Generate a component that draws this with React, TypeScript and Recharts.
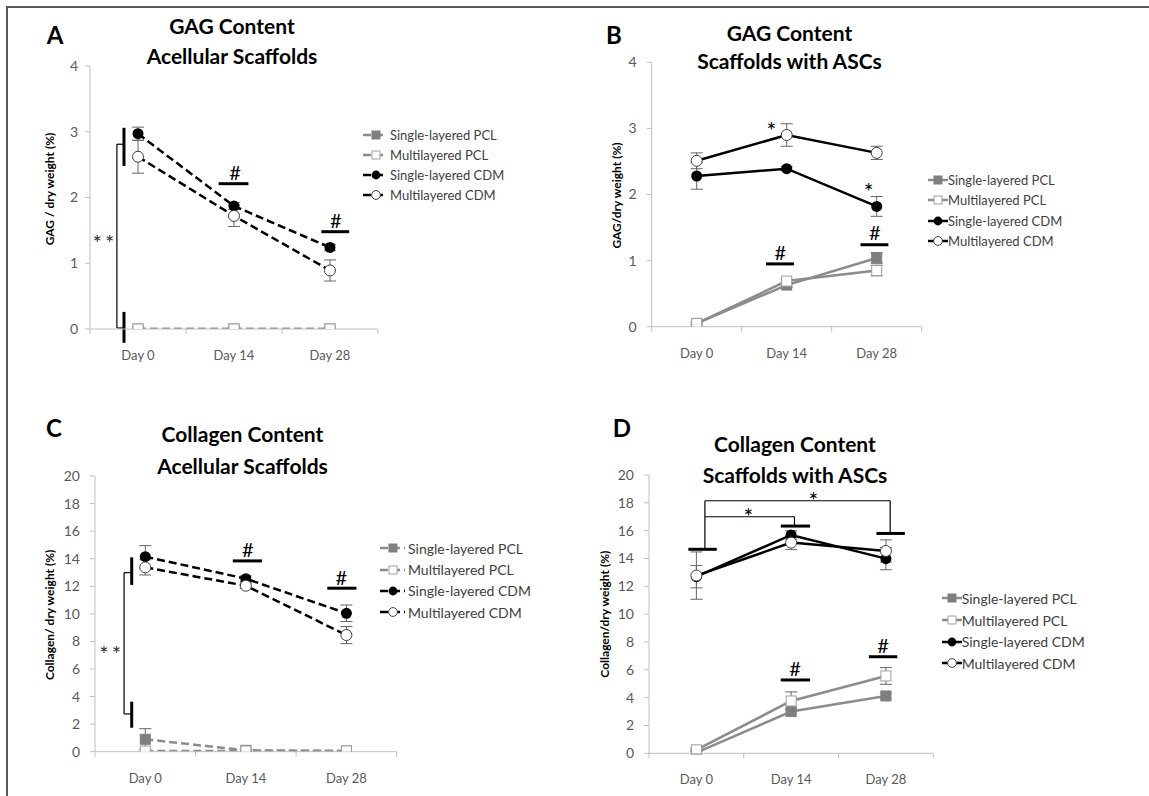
import React from 'react';
import { LineChart, Line, XAxis, YAxis, ErrorBar, ReferenceLine, ReferenceDot, Legend } from 'recharts';

const days = ['Day 0', 'Day 14', 'Day 28'];
const seriesNames = ['Single-layered PCL', 'Multilayered PCL', 'Single-layered CDM', 'Multilayered CDM'];
const KEYS = ['singlePcl', 'multiPcl', 'singleCdm', 'multiCdm'];

// A - GAG content, acellular scaffolds
const gagAcellSinglePcl = [0, 0, 0];
const gagAcellMultiPcl = [0, 0, 0];
const gagAcellSingleCdm = [2.97, 1.87, 1.24];
const gagAcellMultiCdm = [2.62, 1.72, 0.89];
const gagAcellSinglePclErr = [0, 0, 0];
const gagAcellMultiPclErr = [0, 0, 0];
const gagAcellSingleCdmErr = [0.1, 0.05, 0.05];
const gagAcellMultiCdmErr = [0.25, 0.16, 0.16];

// B - GAG content, scaffolds with ASCs
const gagAscSinglePcl = [0.05, 0.63, 1.04];
const gagAscMultiPcl = [0.05, 0.69, 0.85];
const gagAscSingleCdm = [2.28, 2.39, 1.82];
const gagAscMultiCdm = [2.51, 2.9, 2.63];
const gagAscSinglePclErr = [0.02, 0.03, 0.08];
const gagAscMultiPclErr = [0.02, 0.03, 0.08];
const gagAscSingleCdmErr = [0.2, 0.03, 0.15];
const gagAscMultiCdmErr = [0.12, 0.17, 0.1];

// C - collagen content, acellular scaffolds
const colAcellSinglePcl = [0.9, 0.1, 0.05];
const colAcellMultiPcl = [0.05, 0.05, 0.05];
const colAcellSingleCdm = [14.15, 12.55, 10.04];
const colAcellMultiCdm = [13.37, 12.04, 8.46];
const colAcellSinglePclErr = [0.77, 0.05, 0];
const colAcellMultiPclErr = [0, 0, 0];
const colAcellSingleCdmErr = [0.8, 0.2, 0.6];
const colAcellMultiCdmErr = [0.55, 0.2, 0.62];

// D - collagen content, scaffolds with ASCs
const colAscSinglePcl = [0.05, 3.0, 4.12];
const colAscMultiPcl = [0.25, 3.76, 5.56];
const colAscSingleCdm = [12.69, 15.69, 13.99];
const colAscMultiCdm = [12.77, 15.14, 14.54];
const colAscSinglePclErr = [0.1, 0.2, 0.2];
const colAscMultiPclErr = [0.1, 0.65, 0.6];
const colAscSingleCdmErr = [0.8, 0.3, 0.8];
const colAscMultiCdmErr = [1.7, 0.5, 0.8];

// significance marks, in data units: [x1, y1, x2, y2, thick?]
const marksA = [
  [0.354, 3.06, 0.354, 2.48, 1], [0.354, 0.26, 0.354, -0.21, 1],
  [0.28, 2.81, 0.28, 0.015, 0], [0.28, 2.81, 0.354, 2.81, 0], [0.28, 0.015, 0.354, 0.015, 0],
  [1.34, 2.21, 1.65, 2.21, 1], [2.41, 1.48, 2.7, 1.48, 1],
];
const notesA: [string, number, number][] = [['#', 1.51, 2.39], ['#', 2.56, 1.66], ['**', 0.156, 1.43]];

const marksB = [[1.27, 0.95, 1.58, 0.95, 1], [2.32, 1.24, 2.63, 1.24, 1]];
const notesB: [string, number, number][] = [['*', 1.33, 3.08], ['*', 2.41, 2.17], ['#', 1.43, 1.13], ['#', 2.48, 1.43]];

const marksC = [
  [0.365, 14.1, 0.365, 12.1, 1], [0.365, 3.63, 0.365, 1.74, 1],
  [0.289, 12.99, 0.289, 2.74, 0], [0.289, 12.99, 0.365, 12.99, 0], [0.289, 2.74, 0.365, 2.74, 0],
  [1.37, 13.84, 1.66, 13.84, 1], [2.31, 11.86, 2.6, 11.86, 1],
];
const notesC: [string, number, number][] = [['#', 1.52, 14.69], ['#', 2.45, 12.7], ['**', 0.166, 7.62]];

const marksD = [
  [0.415, 14.66, 0.715, 14.66, 1], [1.39, 16.33, 1.7, 16.33, 1], [2.4, 15.8, 2.7, 15.8, 1],
  [1.39, 5.27, 1.7, 5.27, 1], [2.32, 6.94, 2.62, 6.94, 1],
  [0.59, 14.66, 0.59, 18.15, 0], [0.59, 17.0, 1.535, 17.0, 0], [1.535, 17.0, 1.535, 16.33, 0],
  [0.59, 18.15, 2.545, 18.15, 0], [2.545, 18.15, 2.545, 15.8, 0],
];
const notesD: [string, number, number][] = [['*', 1.05, 17.6], ['*', 1.735, 18.72], ['#', 1.54, 6.1], ['#', 2.47, 7.78]];

const STYLE: Record<string, { stroke: string; marker: string }> = {
  singlePcl: { stroke: '#8c8c8c', marker: 'sq' },
  multiPcl: { stroke: '#8c8c8c', marker: 'osq' },
  singleCdm: { stroke: '#000', marker: 'dot' },
  multiCdm: { stroke: '#000', marker: 'odot' },
};

function buildRows(vals: number[][], errs: number[][]) {
  return days.map((d, i) => {
    const row: any = { x: i + 0.5, day: d };
    KEYS.forEach((k, s) => {
      row[k] = vals[s][i];
      row[k + 'Err'] = errs[s][i];
    });
    return row;
  });
}

function Marker({ kind, cx, cy, s = 1 }: { kind: string; cx: number; cy: number; s?: number }) {
  const h = 5 * s;
  const r = 5.5 * s;
  if (kind === 'sq') return <rect x={cx - h} y={cy - h} width={2 * h} height={2 * h} fill="#7f7f7f" stroke="#7f7f7f" />;
  if (kind === 'osq') return <rect x={cx - h} y={cy - h} width={2 * h} height={2 * h} fill="#fff" stroke="#a0a0a0" />;
  if (kind === 'dot') return <circle cx={cx} cy={cy} r={r} fill="#000" />;
  return <circle cx={cx} cy={cy} r={r} fill="#fff" stroke="#404040" strokeWidth={1} />;
}

const XTick = (p: any) => {
  const v = p.payload.value;
  if (Number.isInteger(v)) return <line x1={p.x} x2={p.x} y1={p.y} y2={p.y + 5} stroke="#bfbfbf" />;
  return (
    <text x={p.x} y={p.y + 26} textAnchor="middle" dominantBaseline="central" fill="#595959" fontSize={13}>
      {days[Math.floor(v)]}
    </text>
  );
};

const noteShape = (txt: string) => (p: any) => {
  const star = txt.includes('*');
  return (
    <text
      x={p.cx}
      y={p.cy}
      dy={star ? '0.32em' : 0}
      textAnchor="middle"
      dominantBaseline="central"
      fontSize={txt === '#' ? 20 : txt === '**' ? 22 : 23}
      fill={txt === '**' ? '#333' : '#000'}
      letterSpacing={txt === '**' ? 3 : 0}
    >
      {txt}
    </text>
  );
};

interface Panel {
  left: number; top: number; width: number; height: number;
  plot: [number, number, number, number];
  yMax: number; yTicks: number[];
  yLabel: string; yLabelOffset: number; yLabelDy: number; tickMargin: number; tickFont: number;
  dashed: boolean;
  rows: any[]; marks: number[][]; notes: [string, number, number][];
  legend: { left: number; top: number; rowH: number; fontSize: number; iconW: number };
  letter: string; letterPos: [number, number];
  title: [string, string]; titlePos: [number, number, number]; titleSize: number;
}

const panels: Panel[] = [
  {
    left: 0, top: 0, width: 575, height: 400, plot: [90, 378, 66, 329],
    yMax: 4, yTicks: [0, 1, 2, 3, 4], yLabel: 'GAG / dry weight (%)', yLabelOffset: 20, yLabelDy: -8.5,
    tickMargin: 7, tickFont: 14, dashed: true,
    rows: buildRows(
      [gagAcellSinglePcl, gagAcellMultiPcl, gagAcellSingleCdm, gagAcellMultiCdm],
      [gagAcellSinglePclErr, gagAcellMultiPclErr, gagAcellSingleCdmErr, gagAcellMultiCdmErr]),
    marks: marksA, notes: notesA,
    legend: { left: 363, top: 125, rowH: 20, fontSize: 13, iconW: 27 },
    letter: 'A', letterPos: [55, 35],
    title: ['GAG Content', 'Acellular Scaffolds'], titlePos: [232, 25, 55], titleSize: 21,
  },
  {
    left: 575, top: 0, width: 574, height: 400, plot: [76.7, 346.7, 62.3, 326.7],
    yMax: 4, yTicks: [0, 1, 2, 3, 4], yLabel: 'GAG/dry weight (%)', yLabelOffset: 25, yLabelDy: 1,
    tickMargin: 10, tickFont: 14, dashed: false,
    rows: buildRows(
      [gagAscSinglePcl, gagAscMultiPcl, gagAscSingleCdm, gagAscMultiCdm],
      [gagAscSinglePclErr, gagAscMultiPclErr, gagAscSingleCdmErr, gagAscMultiCdmErr]),
    marks: marksB, notes: notesB,
    legend: { left: 353, top: 170, rowH: 20.3, fontSize: 13, iconW: 20 },
    letter: 'B', letterPos: [39, 35],
    title: ['GAG Content', 'Scaffolds with ASCs'], titlePos: [214.5, 31.7, 60], titleSize: 21,
  },
  {
    left: 0, top: 400, width: 575, height: 396, plot: [95, 396.7, 76, 351.7],
    yMax: 20, yTicks: [0, 2, 4, 6, 8, 10, 12, 14, 16, 18, 20], yLabel: 'Collagen/ dry weight (%)', yLabelOffset: 15, yLabelDy: 1,
    tickMargin: 10, tickFont: 14, dashed: true,
    rows: buildRows(
      [colAcellSinglePcl, colAcellMultiPcl, colAcellSingleCdm, colAcellMultiCdm],
      [colAcellSinglePclErr, colAcellMultiPclErr, colAcellSingleCdmErr, colAcellMultiCdmErr]),
    marks: marksC, notes: notesC,
    legend: { left: 380, top: 137.7, rowH: 21.3, fontSize: 14, iconW: 28 },
    letter: 'C', letterPos: [54, 28],
    title: ['Collagen Content', 'Acellular Scaffolds'], titlePos: [242.5, 33.3, 65], titleSize: 21,
  },
  {
    left: 575, top: 400, width: 574, height: 396, plot: [74, 358.3, 75, 353.3],
    yMax: 20, yTicks: [0, 2, 4, 6, 8, 10, 12, 14, 16, 18, 20], yLabel: 'Collagen/dry weight (%)', yLabelOffset: 16, yLabelDy: 0,
    tickMargin: 10, tickFont: 14, dashed: false,
    rows: buildRows(
      [colAscSinglePcl, colAscMultiPcl, colAscSingleCdm, colAscMultiCdm],
      [colAscSinglePclErr, colAscMultiPclErr, colAscSingleCdmErr, colAscMultiCdmErr]),
    marks: marksD, notes: notesD,
    legend: { left: 366.7, top: 187.5, rowH: 21.7, fontSize: 14, iconW: 20 },
    letter: 'D', letterPos: [47, 28],
    title: ['Collagen Content', 'Scaffolds with ASCs'], titlePos: [220, 43.3, 74], titleSize: 21,
  },
];

const renderLegend = (cfg: Panel) => (props: any) => {
  const lg = cfg.legend;
  const mx = cfg.dashed ? 13 : 10;
  const items = [...(props.payload || [])].sort((a: any, b: any) => KEYS.indexOf(a.dataKey) - KEYS.indexOf(b.dataKey));
  return (
    <div style={{ fontSize: lg.fontSize, color: '#404040' }}>
      {items.map((item: any) => {
        const st = STYLE[item.dataKey];
        return (
          <div key={item.dataKey} style={{ display: 'flex', alignItems: 'center', height: lg.rowH, whiteSpace: 'nowrap' }}>
            <svg width={lg.iconW} height={14} style={{ flex: 'none' }}>
              <line x1={0} x2={lg.iconW - (cfg.dashed ? 3 : 0)} y1={7} y2={7} stroke={st.stroke} strokeWidth={2.5}
                strokeDasharray={cfg.dashed ? '8 4' : undefined} />
              <Marker kind={st.marker} cx={mx} cy={7} s={0.8} />
            </svg>
            <span>{item.value}</span>
          </div>
        );
      })}
    </div>
  );
};

function PanelChart({ cfg }: { cfg: Panel }) {
  const [x0, x1, y0, y1] = cfg.plot;
  const yW = 60;
  const xH = 30;
  const margin = { left: x0 - yW, right: cfg.width - x1, top: y0, bottom: cfg.height - y1 - xH };
  return (
    <div style={{ position: 'absolute', left: cfg.left, top: cfg.top, width: cfg.width, height: cfg.height }}>
      <LineChart width={cfg.width} height={cfg.height} data={cfg.rows} margin={margin}>
        <XAxis
          type="number" dataKey="x" domain={[0, 3]} ticks={[0, 0.5, 1, 1.5, 2, 2.5, 3]} interval={0}
          allowDataOverflow tickSize={0} tickMargin={0} tickLine={false} tick={XTick} height={xH}
          axisLine={{ stroke: '#bfbfbf' }}
        />
        <YAxis
          type="number" domain={[0, cfg.yMax]} ticks={cfg.yTicks} interval={0} allowDataOverflow width={yW}
          tickSize={5} tickMargin={cfg.tickMargin} axisLine={{ stroke: '#bfbfbf' }} tickLine={{ stroke: '#bfbfbf' }}
          tick={{ fill: '#595959', fontSize: cfg.tickFont }}
          label={{
            value: cfg.yLabel, angle: -90, position: 'insideLeft', offset: cfg.yLabelOffset, dy: cfg.yLabelDy,
            style: { textAnchor: 'middle', fontSize: 12, fontWeight: 700, fill: '#000' },
          }}
        />
        <Legend
          layout="vertical" align="center" verticalAlign="middle"
          wrapperStyle={{ left: cfg.legend.left, top: cfg.legend.top, width: 200, height: 'auto' }}
          content={renderLegend(cfg)}
        />
        {KEYS.map((k, i) => (
          <Line
            key={k} type="linear" dataKey={k} name={seriesNames[i]} stroke={STYLE[k].stroke} strokeWidth={2.5}
            strokeDasharray={cfg.dashed ? '8 4' : undefined} isAnimationActive={false} activeDot={false}
            dot={(p: any) => <Marker key={`${k}-${p.index}`} kind={STYLE[k].marker} cx={p.cx} cy={p.cy} />}
          >
            <ErrorBar dataKey={k + 'Err'} width={6} strokeWidth={1} stroke="#666" direction="y" />
          </Line>
        ))}
        {cfg.marks.map((m, i) => (
          <ReferenceLine
            key={`m${i}`} segment={[{ x: m[0], y: m[1] }, { x: m[2], y: m[3] }]}
            stroke="#000" strokeWidth={m[4] ? 3 : 1.2} ifOverflow="visible"
          />
        ))}
        {cfg.notes.map((n, i) => (
          <ReferenceDot key={`n${i}`} x={n[1]} y={n[2]} r={1} ifOverflow="visible" shape={noteShape(n[0])} />
        ))}
      </LineChart>
      <div style={{ position: 'absolute', left: cfg.letterPos[0], top: cfg.letterPos[1], transform: 'translate(-50%,-50%)', fontSize: 24, fontWeight: 700, color: '#000', lineHeight: 1 }}>
        {cfg.letter}
      </div>
      {cfg.title.map((t, i) => (
        <div key={t} style={{ position: 'absolute', left: cfg.titlePos[0], top: cfg.titlePos[i + 1], transform: 'translate(-50%,-50%)', fontSize: cfg.titleSize, fontWeight: 700, color: '#000', whiteSpace: 'nowrap', lineHeight: 1 }}>
          {t}
        </div>
      ))}
    </div>
  );
}

export default function App() {
  return (
    <div style={{ position: 'absolute', left: 0, top: 0, width: 1149, height: 796, background: '#fff', fontFamily: 'Lato, "Open Sans", sans-serif', overflow: 'hidden' }}>
      <div style={{ position: 'absolute', left: 6, top: 6, width: 1149, height: 796, borderTop: '2px solid #595959', borderLeft: '2px solid #595959' }} />
      {panels.map((p) => (
        <PanelChart key={p.letter} cfg={p} />
      ))}
    </div>
  );
}
